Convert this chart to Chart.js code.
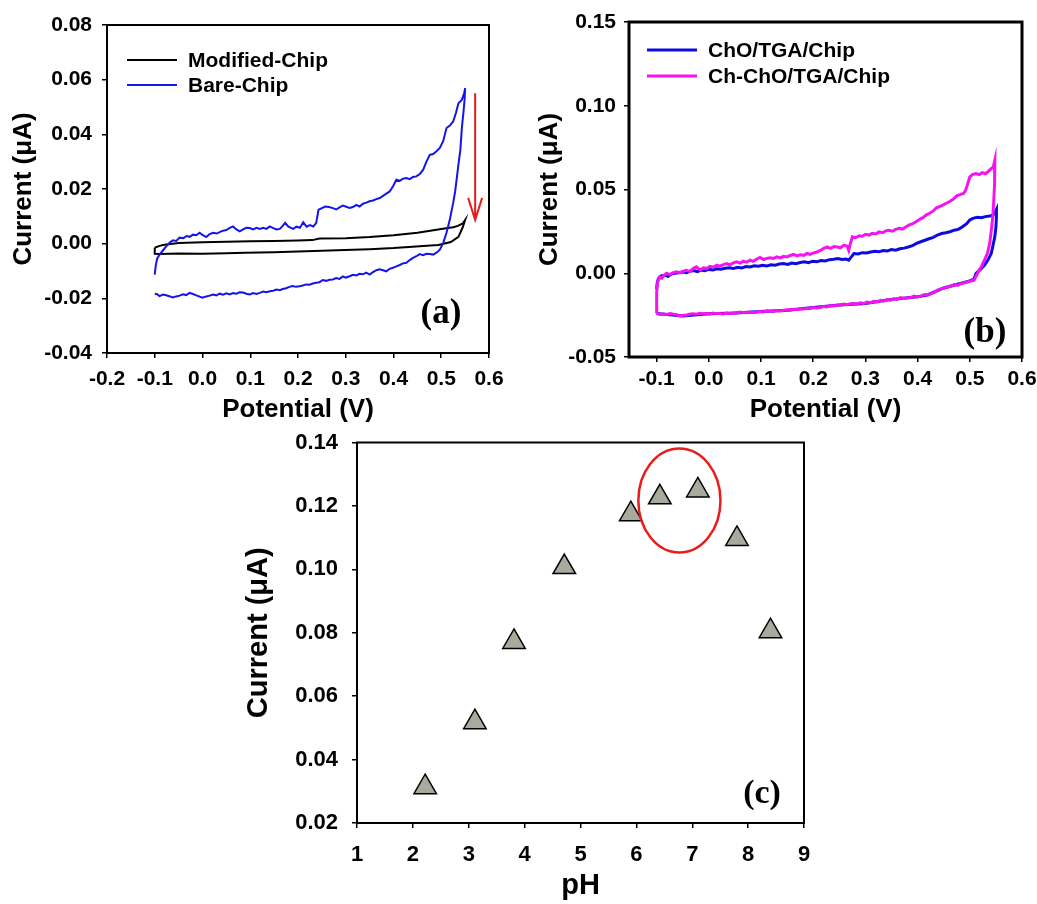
<!DOCTYPE html>
<html>
<head>
<meta charset="utf-8">
<script src="https://cdn.jsdelivr.net/npm/chart.js@4.4.0/dist/chart.umd.min.js"></script>
<style>
  html, body { margin: 0; padding: 0; background: #fff; }
  body { width: 1037px; height: 904px; position: relative; overflow: hidden; }
  canvas { position: absolute; }
  #chartA { left: 0; top: 0; }
  #chartB { left: 520px; top: 0; }
  #chartC { left: 230px; top: 428px; }
</style>
</head>
<body>
<canvas id="chartA" width="520" height="428"></canvas>
<canvas id="chartB" width="517" height="428"></canvas>
<canvas id="chartC" width="620" height="476"></canvas>
<script>
// ---------- panel (a): bare vs modified chip ----------
const aTicksX = [-0.2, -0.1, 0.0, 0.1, 0.2, 0.3, 0.4, 0.5, 0.6];
const aTicksY = [-0.04, -0.02, 0.00, 0.02, 0.04, 0.06, 0.08];
const aLabels = ['Modified-Chip', 'Bare-Chip'];

const modX = [-0.1, -0.09, -0.08, -0.05, 0.0, 0.05, 0.1, 0.15, 0.2, 0.23, 0.245, 0.3, 0.35, 0.4, 0.45, 0.487, 0.51, 0.525, 0.535, 0.545, 0.55,
  0.545, 0.536, 0.52, 0.494, 0.47, 0.44, 0.4, 0.35, 0.298, 0.25, 0.2, 0.15, 0.089, 0.05, 0.0, -0.05, -0.09, -0.1, -0.1];
const modY = [-0.0015, -0.0008, -0.0004, 0.0002, 0.0005, 0.0007, 0.0009, 0.001, 0.0012, 0.0013, 0.0019, 0.002, 0.0024, 0.0031, 0.004, 0.005, 0.0056, 0.006, 0.0065, 0.0074, 0.0087,
  0.006, 0.0025, 0.0006, -0.0005, -0.0008, -0.0011, -0.0016, -0.002, -0.0023, -0.0026, -0.0029, -0.0031, -0.0033, -0.0035, -0.0037, -0.0036, -0.0038, -0.0037, -0.0015];

const bareX = [-0.1, -0.098, -0.095, -0.09, -0.083, -0.076, -0.068, -0.062, -0.055, -0.048, -0.04, -0.033, -0.027, -0.02, -0.013, -0.006, 0.0, 0.008, 0.015, 0.022,
  0.03, 0.04, 0.05, 0.057, 0.064, 0.071, 0.078, 0.085, 0.092, 0.099, 0.106, 0.113, 0.12, 0.127, 0.134, 0.141, 0.148, 0.155, 0.162, 0.168,
  0.173, 0.18, 0.19, 0.197, 0.204, 0.211, 0.218, 0.225, 0.232, 0.238, 0.243, 0.25, 0.257, 0.265, 0.273, 0.28, 0.287, 0.294, 0.301, 0.308,
  0.315, 0.322, 0.329, 0.336, 0.343, 0.35, 0.357, 0.364, 0.371, 0.378, 0.385, 0.392, 0.399, 0.406, 0.413, 0.42, 0.427, 0.434, 0.441, 0.448,
  0.455, 0.462, 0.469, 0.476, 0.483, 0.49, 0.497, 0.504, 0.511, 0.518, 0.525, 0.531, 0.536, 0.543, 0.548, 0.55,
  0.549, 0.547, 0.543, 0.54, 0.536, 0.533, 0.529, 0.525, 0.521, 0.518, 0.511, 0.504, 0.497, 0.49, 0.483, 0.476, 0.469, 0.462, 0.455, 0.448,
  0.441, 0.434, 0.427, 0.42, 0.413, 0.406, 0.399, 0.392, 0.385, 0.378, 0.371, 0.364, 0.357, 0.35, 0.343, 0.336, 0.329, 0.322, 0.315, 0.308,
  0.3, 0.294, 0.287, 0.28, 0.273, 0.266, 0.259, 0.252, 0.245, 0.238, 0.231, 0.224, 0.217, 0.21, 0.203, 0.196, 0.189, 0.182, 0.175, 0.168,
  0.162, 0.155, 0.148, 0.141, 0.134, 0.127, 0.12, 0.113, 0.106, 0.099, 0.092, 0.085, 0.078, 0.071, 0.064, 0.057, 0.05, 0.043, 0.036, 0.029,
  0.022, 0.015, 0.008, 0.0, -0.006, -0.013, -0.02, -0.027, -0.034, -0.041, -0.048, -0.055, -0.062, -0.068, -0.076, -0.083, -0.09, -0.095, -0.1];
const bareY = [-0.0113, -0.008, -0.0055, -0.004, -0.0025, -0.001, 0.0005, 0.0012, 0.001, 0.0022, 0.002, 0.0028, 0.0025, 0.0033, 0.0031, 0.004, 0.0032, 0.0024, 0.0035, 0.004,
  0.0037, 0.0046, 0.005, 0.0058, 0.0063, 0.0052, 0.0045, 0.0052, 0.0058, 0.0057, 0.0052, 0.0058, 0.0054, 0.0058, 0.0054, 0.0063, 0.0057, 0.0052, 0.0054, 0.0065,
  0.0076, 0.0062, 0.0054, 0.0062, 0.0058, 0.0078, 0.0062, 0.0068, 0.0063, 0.0075, 0.0124, 0.013, 0.0136, 0.0134, 0.013, 0.0125, 0.0133, 0.0139, 0.0135, 0.0131,
  0.0134, 0.0142, 0.0136, 0.0146, 0.015, 0.0155, 0.0158, 0.0163, 0.0167, 0.0175, 0.0183, 0.0191, 0.021, 0.0234, 0.023, 0.0238, 0.024, 0.0236, 0.0244, 0.0246,
  0.0255, 0.027, 0.03, 0.0325, 0.0328, 0.0338, 0.035, 0.0375, 0.0423, 0.0432, 0.0447, 0.048, 0.0514, 0.0526, 0.055, 0.0569,
  0.053, 0.049, 0.042, 0.0343, 0.029, 0.0246, 0.019, 0.0149, 0.0115, 0.0088, 0.004, 0.0002, -0.0022, -0.0033, -0.004, -0.0038, -0.0037, -0.0042, -0.0038, -0.0046,
  -0.0052, -0.006, -0.007, -0.0072, -0.0078, -0.0083, -0.0088, -0.0092, -0.0101, -0.0097, -0.0094, -0.0097, -0.0104, -0.0113, -0.0106, -0.0112, -0.011, -0.0116, -0.0114, -0.0119,
  -0.0124, -0.012, -0.0129, -0.0126, -0.0131, -0.0132, -0.0136, -0.0133, -0.0141, -0.0143, -0.0146, -0.015, -0.0149, -0.0153, -0.0156, -0.0158, -0.0155, -0.0158, -0.0163, -0.0166,
  -0.017, -0.0168, -0.0172, -0.0174, -0.0178, -0.0175, -0.018, -0.0184, -0.0181, -0.0186, -0.0183, -0.0179, -0.0178, -0.0183, -0.0181, -0.0186, -0.0182, -0.0187, -0.0183, -0.0189,
  -0.0186, -0.019, -0.0193, -0.0198, -0.0194, -0.0189, -0.0184, -0.018, -0.0188, -0.0185, -0.019, -0.0193, -0.0197, -0.0193, -0.0189, -0.0186, -0.0192, -0.0185, -0.0183];

const arrowA = { x: 0.571, yFrom: 0.055, yTo: 0.0087 };

// ---------- panel (b): ChO vs Ch-ChO ----------
const bTicksX = [-0.1, 0.0, 0.1, 0.2, 0.3, 0.4, 0.5, 0.6];
const bTicksY = [-0.05, 0.00, 0.05, 0.10, 0.15];
const bLabels = ['ChO/TGA/Chip', 'Ch-ChO/TGA/Chip'];

const choX = [-0.1, -0.099, -0.097, -0.094, -0.09, -0.084, -0.078, -0.072, -0.065, -0.058, -0.05, -0.043, -0.036, -0.029, -0.022, -0.015, -0.008, 0.0, 0.008, 0.015,
  0.023, 0.031, 0.039, 0.047, 0.055, 0.063, 0.071, 0.079, 0.087, 0.095, 0.103, 0.111, 0.119, 0.127, 0.135, 0.143, 0.151, 0.159, 0.167, 0.175,
  0.183, 0.191, 0.199, 0.207, 0.215, 0.223, 0.231, 0.239, 0.247, 0.255, 0.263, 0.268, 0.273, 0.278, 0.286, 0.294, 0.302, 0.31, 0.318, 0.326,
  0.334, 0.342, 0.35, 0.358, 0.366, 0.374, 0.382, 0.39, 0.398, 0.406, 0.414, 0.422, 0.43, 0.438, 0.446, 0.454, 0.462, 0.47, 0.478, 0.486,
  0.494, 0.5, 0.506, 0.514, 0.522, 0.53, 0.538, 0.544, 0.548, 0.551,
  0.551, 0.55, 0.548, 0.544, 0.541, 0.535, 0.528, 0.52, 0.512, 0.508, 0.5, 0.48, 0.45, 0.42, 0.4, 0.35, 0.3, 0.25, 0.2, 0.15, 0.1, 0.05, 0.0, -0.05, -0.1];
const choY = [-0.0095, -0.006, -0.0035, -0.0022, -0.0015, -0.0012, -0.0018, -0.0005, 0.0, 0.0003, 0.0008, 0.0004, 0.0012, 0.0016, 0.001, 0.0019, 0.0015, 0.0023, 0.0019, 0.0027,
  0.0024, 0.003, 0.0033, 0.0028, 0.0036, 0.0032, 0.004, 0.0037, 0.0045, 0.0042, 0.0048, 0.0044, 0.0051, 0.0048, 0.0055, 0.0058, 0.0053, 0.0061, 0.0057, 0.0064,
  0.0068, 0.0063, 0.0072, 0.0069, 0.0076, 0.0073, 0.0081, 0.0084, 0.0088, 0.0082, 0.0085, 0.0078, 0.0098, 0.0118, 0.0115, 0.0123, 0.0121, 0.0127, 0.0131, 0.0128,
  0.0136, 0.0133, 0.0141, 0.0138, 0.0146, 0.015, 0.0157, 0.0165, 0.0178, 0.0188, 0.0197, 0.0206, 0.0214, 0.0228, 0.0237, 0.0242, 0.0248, 0.0257, 0.0262, 0.0278,
  0.0296, 0.0318, 0.0328, 0.0334, 0.0331, 0.0338, 0.0342, 0.0346, 0.036, 0.038,
  0.0335, 0.0276, 0.022, 0.016, 0.0118, 0.008, 0.0048, 0.0022, 0.0, -0.0035, -0.0046, -0.0063, -0.0088, -0.0128, -0.0141, -0.0156, -0.0181, -0.0189, -0.0205, -0.0221, -0.0228, -0.0238, -0.0242, -0.0255, -0.0241];

const chChoX = [-0.1, -0.1, -0.099, -0.097, -0.094, -0.09, -0.087, -0.081, -0.075, -0.068, -0.062, -0.055, -0.049, -0.043, -0.037, -0.03, -0.024, -0.017, -0.01, -0.004,
  0.002, 0.009, 0.015, 0.021, 0.028, 0.034, 0.04, 0.047, 0.053, 0.06, 0.066, 0.072, 0.079, 0.085, 0.092, 0.098, 0.105, 0.111, 0.117, 0.124,
  0.13, 0.137, 0.143, 0.149, 0.156, 0.162, 0.169, 0.175, 0.182, 0.188, 0.194, 0.201, 0.207, 0.214, 0.22, 0.227, 0.233, 0.24, 0.246, 0.252,
  0.259, 0.265, 0.268, 0.271, 0.275, 0.281, 0.288, 0.294, 0.3, 0.307, 0.313, 0.32, 0.326, 0.333, 0.339, 0.345, 0.352, 0.358, 0.365, 0.371,
  0.378, 0.384, 0.391, 0.397, 0.404, 0.41, 0.417, 0.423, 0.43, 0.436, 0.443, 0.449, 0.455, 0.462, 0.468, 0.475, 0.481, 0.488, 0.492, 0.496,
  0.5, 0.506, 0.512, 0.518, 0.524, 0.53, 0.536, 0.541, 0.545, 0.548,
  0.548, 0.547, 0.546, 0.544, 0.541, 0.538, 0.534, 0.528, 0.523, 0.518, 0.513, 0.508, 0.501, 0.495, 0.488, 0.482, 0.477, 0.47, 0.464, 0.458,
  0.451, 0.445, 0.438, 0.432, 0.425, 0.419, 0.413, 0.406, 0.4, 0.393, 0.387, 0.38, 0.374, 0.367, 0.361, 0.354, 0.348, 0.341, 0.335, 0.329,
  0.323, 0.316, 0.31, 0.303, 0.297, 0.29, 0.284, 0.278, 0.271, 0.265, 0.258, 0.252, 0.246, 0.239, 0.233, 0.226, 0.22, 0.213, 0.207, 0.2,
  0.194, 0.188, 0.181, 0.175, 0.169, 0.162, 0.156, 0.149, 0.143, 0.136, 0.13, 0.124, 0.117, 0.111, 0.104, 0.098, 0.092, 0.085, 0.079, 0.072,
  0.066, 0.059, 0.053, 0.047, 0.04, 0.034, 0.027, 0.021, 0.015, 0.008, 0.002, -0.004, -0.011, -0.017, -0.024, -0.03, -0.037, -0.043, -0.049, -0.055,
  -0.062, -0.068, -0.074, -0.081, -0.087, -0.094, -0.1];
const chChoY = [-0.024, -0.012, -0.007, -0.004, -0.0022, -0.003, -0.0015, 0.0, -0.0008, 0.0004, 0.0008, 0.0002, 0.0012, 0.0018, 0.001, 0.0028, 0.0038, 0.002, 0.0032, 0.0028,
  0.0041, 0.0036, 0.0048, 0.0042, 0.0052, 0.0058, 0.005, 0.0062, 0.0068, 0.006, 0.0072, 0.0066, 0.0078, 0.0071, 0.0085, 0.0094, 0.0082, 0.0089, 0.0093, 0.0088,
  0.0098, 0.0092, 0.0101, 0.0097, 0.0106, 0.0113, 0.0104, 0.011, 0.0107, 0.0118, 0.0113, 0.0122, 0.0127, 0.0136, 0.0148, 0.0157, 0.0149, 0.016, 0.0157, 0.0152,
  0.0168, 0.0162, 0.0137, 0.0175, 0.0217, 0.0212, 0.0224, 0.0221, 0.0232, 0.0228, 0.0238, 0.0235, 0.0247, 0.0242, 0.0253, 0.0257, 0.0251, 0.0262, 0.0268, 0.0264,
  0.0278, 0.0289, 0.0296, 0.0308, 0.0322, 0.0332, 0.0349, 0.0358, 0.0372, 0.0391, 0.0399, 0.0408, 0.0418, 0.043, 0.0441, 0.0462, 0.0469, 0.0476, 0.0495, 0.0535,
  0.0575, 0.059, 0.0595, 0.0589, 0.06, 0.0594, 0.061, 0.0625, 0.0635, 0.0675,
  0.061, 0.0535, 0.044, 0.0336, 0.025, 0.0177, 0.012, 0.0078, 0.0045, 0.0018, -0.0012, -0.0042, -0.0046, -0.0052, -0.0058, -0.0063, -0.0072, -0.0068, -0.0078, -0.0082,
  -0.0088, -0.0093, -0.0101, -0.0115, -0.0122, -0.0131, -0.0127, -0.0138, -0.0141, -0.0136, -0.0145, -0.0148, -0.0151, -0.0146, -0.0156, -0.0153, -0.0161, -0.0157, -0.0166, -0.0162,
  -0.0171, -0.0168, -0.0176, -0.0172, -0.0181, -0.0177, -0.0185, -0.018, -0.0182, -0.0188, -0.0184, -0.0191, -0.0189, -0.0195, -0.0192, -0.0201, -0.0198, -0.0204, -0.0208, -0.0205,
  -0.0211, -0.0209, -0.0214, -0.0212, -0.0217, -0.0215, -0.0221, -0.0218, -0.0221, -0.0225, -0.0222, -0.0228, -0.0227, -0.0224, -0.0231, -0.0228, -0.0231, -0.0235, -0.0232, -0.0236,
  -0.0235, -0.0232, -0.0238, -0.0236, -0.024, -0.0237, -0.0243, -0.024, -0.0241, -0.0238, -0.0244, -0.024, -0.0242, -0.0239, -0.0245, -0.0242, -0.0245, -0.0249, -0.0251, -0.0255,
  -0.0248, -0.0244, -0.0241, -0.0246, -0.0243, -0.0245, -0.0241];

// ---------- panel (c): pH study ----------
const cTicksX = [1, 2, 3, 4, 5, 6, 7, 8, 9];
const cTicksY = [0.02, 0.04, 0.06, 0.08, 0.10, 0.12, 0.14];
const phValues = [2.22, 3.11, 3.81, 4.71, 5.9, 6.42, 7.1, 7.8, 8.4];
const phCurrent = [0.0313, 0.0518, 0.0771, 0.1007, 0.1174, 0.1227, 0.1249, 0.1096, 0.0805];
const ellipseC = { x: 6.77, y: 0.1217, rx: 0.735, ry: 0.0164 };

const RED = 'rgb(232, 28, 28)';
const SANS = "'Liberation Sans', Arial, sans-serif";
const SERIF = "'Liberation Serif', 'Times New Roman', serif";

Chart.defaults.font.family = SANS;
Chart.defaults.font.weight = 'bold';
Chart.defaults.color = '#000';

const pts = (xs, ys) => xs.map((x, i) => ({ x: x, y: ys[i] }));

// linear axis with fixed tick list and fixed box size
const axis = (ticks, digits, o) => ({
    type: 'linear',
    min: o.min !== undefined ? o.min : ticks[0],
    max: ticks[ticks.length - 1],
    afterBuildTicks: s => { s.ticks = ticks.map(v => ({ value: v })); },
    afterFit: s => {
        if (s.isHorizontal()) { s.height = o.size; s.paddingLeft = 0; s.paddingRight = 0; }
        else { s.width = o.size; s.paddingTop = 0; s.paddingBottom = 0; }
    },
    grid: { drawOnChartArea: false, drawTicks: true, tickLength: 5, color: '#000', lineWidth: 1.5 },
    border: { display: false },
    ticks: {
        autoSkip: false, maxRotation: 0,
        padding: o.pad,
        font: { size: o.tickSize || 21, weight: 'bold' },
        callback: v => v.toFixed(digits)
    },
    title: {
        display: true,
        text: o.title,
        font: { size: o.titleSize, weight: 'bold' },
        padding: o.titlePad
    }
});

// frame box, panel tag and in-plot legend
const decor = {
    id: 'decor',
    afterDatasetsDraw(chart, args, o) {
        const { ctx, chartArea: a } = chart;
        ctx.save();
        ctx.strokeStyle = '#000';
        ctx.lineWidth = o.frame;
        ctx.strokeRect(a.left, a.top, a.right - a.left, a.bottom - a.top);

        ctx.fillStyle = '#000';
        ctx.textAlign = 'center';
        ctx.textBaseline = 'middle';
        ctx.font = 'bold ' + o.tagSize + 'px ' + SERIF;
        ctx.fillText(o.tag, a.right + o.tagDx, a.bottom + o.tagDy);

        if (o.legend) {
            const L = o.legend;
            ctx.font = 'bold 21px ' + SANS;
            ctx.textAlign = 'left';
            chart.data.datasets.forEach((ds, i) => {
                const y = a.top + L.y + i * L.row;
                ctx.strokeStyle = ds.borderColor;
                ctx.lineWidth = ds.borderWidth;
                ctx.beginPath();
                ctx.moveTo(a.left + L.x, y);
                ctx.lineTo(a.left + L.x + 50, y);
                ctx.stroke();
                ctx.fillText(ds.label, a.left + L.text, y + 1);
            });
        }
        ctx.restore();
    }
};

const arrowPlugin = {
    id: 'arrow',
    afterDatasetsDraw(chart) {
        const { ctx, scales: { x, y } } = chart;
        const px = x.getPixelForValue(arrowA.x);
        const y0 = y.getPixelForValue(arrowA.yFrom);
        const y1 = y.getPixelForValue(arrowA.yTo);
        ctx.save();
        ctx.strokeStyle = RED;
        ctx.lineWidth = 2;
        ctx.beginPath();
        ctx.moveTo(px, y0);
        ctx.lineTo(px, y1);
        ctx.moveTo(px - 7, y1 - 22);
        ctx.lineTo(px, y1);
        ctx.lineTo(px + 7, y1 - 22);
        ctx.stroke();
        ctx.restore();
    }
};

const ellipsePlugin = {
    id: 'ring',
    afterDatasetsDraw(chart) {
        const { ctx, scales: { x, y } } = chart;
        const cx = x.getPixelForValue(ellipseC.x);
        const cy = y.getPixelForValue(ellipseC.y);
        const rx = x.getPixelForValue(ellipseC.x + ellipseC.rx) - cx;
        const ry = cy - y.getPixelForValue(ellipseC.y + ellipseC.ry);
        ctx.save();
        ctx.strokeStyle = RED;
        ctx.lineWidth = 2.5;
        ctx.beginPath();
        ctx.ellipse(cx, cy, rx, ry, 0, 0, Math.PI * 2);
        ctx.stroke();
        ctx.restore();
    }
};

// order: lower value is painted on top
const cvLine = (label, xs, ys, color, width, order) => ({
    label: label,
    data: pts(xs, ys),
    showLine: true,
    borderColor: color,
    borderWidth: width,
    pointRadius: 0,
    tension: 0,
    fill: false,
    order: order
});

const base = {
    responsive: false,
    animation: false,
    events: [],
    plugins: { legend: { display: false }, tooltip: { enabled: false } }
};

// Panel (a)
new Chart(document.getElementById('chartA'), {
    type: 'scatter',
    data: {
        datasets: [
            cvLine(aLabels[0], modX, modY, '#000', 2, 2),
            cvLine(aLabels[1], bareX, bareY, 'rgb(20, 20, 235)', 2, 1)
        ]
    },
    options: {
        ...base,
        layout: { padding: { left: 0, right: 31, top: 25, bottom: 0 } },
        scales: {
            x: axis(aTicksX, 1, { size: 75, pad: 9, title: 'Potential (V)', titleSize: 26, titlePad: { top: 0, bottom: 3 } }),
            y: axis(aTicksY, 2, { size: 107, pad: 10, title: 'Current (\u03bcA)', titleSize: 26, titlePad: { top: 8, bottom: 0 } })
        },
        plugins: {
            ...base.plugins,
            decor: { frame: 2, tag: '(a)', tagSize: 35, tagDx: -48, tagDy: -39, legend: { x: 20, text: 81, y: 35, row: 25 } }
        }
    },
    plugins: [decor, arrowPlugin]
});

// Panel (b)
new Chart(document.getElementById('chartB'), {
    type: 'scatter',
    data: {
        datasets: [
            cvLine(bLabels[0], choX, choY, 'rgb(12, 12, 225)', 3, 2),
            cvLine(bLabels[1], chChoX, chChoY, 'rgb(245, 20, 240)', 3, 1)
        ]
    },
    options: {
        ...base,
        layout: { padding: { left: 0, right: 15, top: 22, bottom: 0 } },
        scales: {
            x: axis(bTicksX, 1, { min: -0.153, size: 71, pad: 5, title: 'Potential (V)', titleSize: 26, titlePad: { top: 0, bottom: 3 } }),
            y: axis(bTicksY, 2, { size: 109, pad: 8, title: 'Current (\u03bcA)', titleSize: 26, titlePad: { top: 14, bottom: 0 } })
        },
        plugins: {
            ...base.plugins,
            decor: { frame: 3, tag: '(b)', tagSize: 35, tagDx: -37, tagDy: -24, legend: { x: 18, text: 79, y: 28, row: 26 } }
        }
    },
    plugins: [decor]
});

// Panel (c)
new Chart(document.getElementById('chartC'), {
    type: 'scatter',
    data: {
        datasets: [{
            label: 'pH',
            data: pts(phValues, phCurrent),
            pointStyle: 'triangle',
            pointRadius: 13,
            backgroundColor: 'rgb(168, 170, 158)',
            borderColor: '#000',
            borderWidth: 1.5
        }]
    },
    options: {
        ...base,
        layout: { padding: { left: 0, right: 46, top: 14, bottom: 0 } },
        scales: {
            x: axis(cTicksX, 0, { size: 81, pad: 14, tickSize: 22, title: 'pH', titleSize: 29, titlePad: { top: 0, bottom: 1 } }),
            y: axis(cTicksY, 2, { size: 127, pad: 14, tickSize: 22, title: 'Current (\u03bcA)', titleSize: 29, titlePad: { top: 12, bottom: 0 } })
        },
        plugins: {
            ...base.plugins,
            decor: { frame: 2, tag: '(c)', tagSize: 34, tagDx: -42, tagDy: -29 }
        }
    },
    plugins: [decor, ellipsePlugin]
});
</script>
</body>
</html>
